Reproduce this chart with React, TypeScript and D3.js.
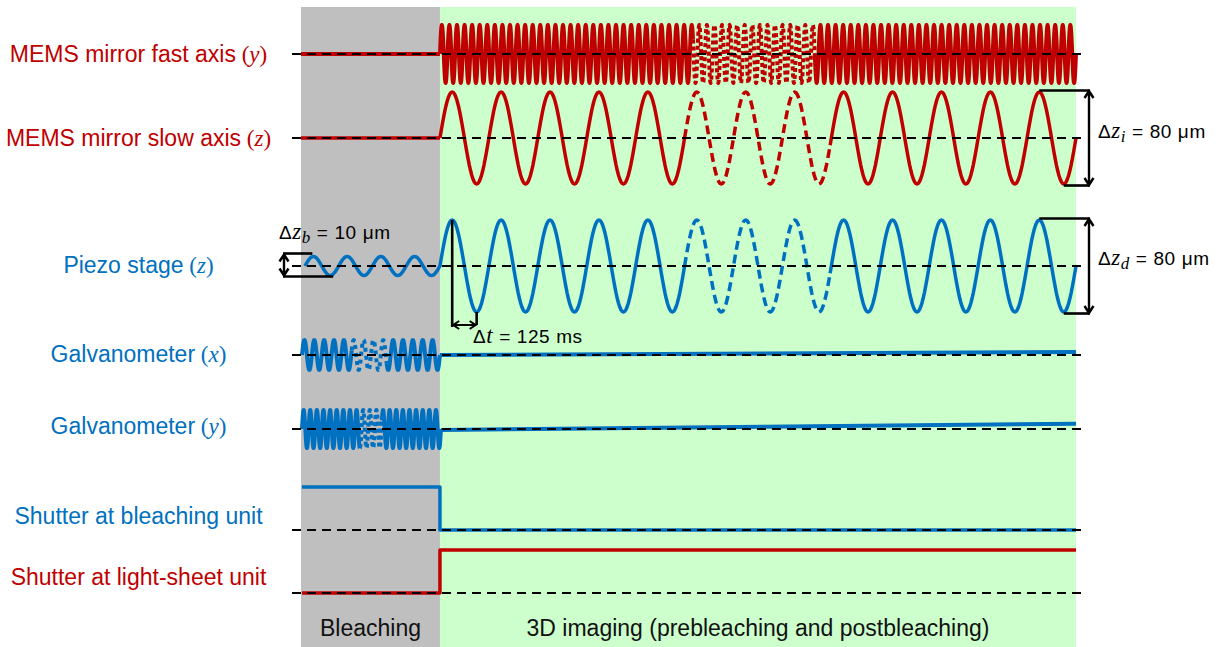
import React from "react";
import * as d3 from "d3";

// ---------------- data ----------------
const phaseNames = ["Bleaching", "3D imaging (prebleaching and postbleaching)"];
const phaseBounds = [-710, 0, 3250]; // ms
const halfPeriod = 125; // Δt (ms)
const imagingCycles = 13;
const skippedCycles = [5, 8]; // schematic (dashed) cycles of slow axis / piezo
const fastCycles = 84;
const fastSkipped = [1293, 1916]; // ms
const scanRange = 80; // µm (Δz_i, Δz_d)
const bleachRange = 10; // µm (Δz_b)
const bleachStart = -690; // ms
const bleachCycles = 4;
const galvStart = -705; // ms
const galvXCycles = 14;
const galvXSkipped = [-450, -271];
const galvYCycles = 21;
const galvYSkipped = [-409, -296];
const galvXDrift = [0, 0.2];
const galvYDrift = [-0.05, 0.28];
const shutterBleach = [1, 0];
const shutterSheet = [0, 1];
const rowLabels = [
  "MEMS mirror fast axis",
  "MEMS mirror slow axis",
  "Piezo stage",
  "Galvanometer",
  "Galvanometer",
  "Shutter at bleaching unit",
  "Shutter at light-sheet unit",
];
const rowVars = ["y", "z", "z", "x", "y", "", ""];

// ---------------- layout / style ----------------
const W = 1226;
const H = 647;
const RED = "#C00000";
const BLUE = "#0070C0";
const rowY = [54, 138, 266, 355, 429, 530, 593];
const rowColor = [RED, RED, BLUE, BLUE, BLUE, BLUE, RED];
const SANS = "'Liberation Sans', Arial, sans-serif";
const SERIF = "'Liberation Serif', 'Times New Roman', serif";

const x = d3.scaleLinear().domain([phaseBounds[0], phaseBounds[2]]).range([301, 1076]);
const scanY = d3.scaleLinear().domain([-scanRange / 2, scanRange / 2]).range([46, -46]);
const bleachY = d3.scaleLinear().domain([-bleachRange / 2, bleachRange / 2]).range([9.5, -9.5]);
const fastY = d3.scaleLinear().domain([-1, 1]).range([29, -29]);
const galvXY = d3.scaleLinear().domain([-1, 1]).range([15, -15]);
const galvYY = d3.scaleLinear().domain([-1, 1]).range([19, -19]);
const shutterY = d3.scaleLinear().domain([0, 1]).range([0, -43]);

type Pt = [number, number]; // [time ms, px offset]

function sine(t0: number, t1: number, cycles: number, amp: (v: number) => number, spc = 40): Pt[] {
  const n = Math.ceil(cycles * spc);
  return d3.range(n + 1).map((i) => {
    const t = t0 + ((t1 - t0) * i) / n;
    return [t, amp(Math.sin((2 * Math.PI * cycles * (t - t0)) / (t1 - t0)))] as Pt;
  });
}
function flat(t0: number, t1: number, v0: number, v1: number, amp: (v: number) => number): Pt[] {
  return [
    [t0, amp(v0)],
    [t1, amp(v1)],
  ];
}
function split(pts: Pt[], range: number[] | null) {
  const segs: { dashed: boolean; pts: Pt[] }[] = [];
  const inR = (t: number) => !!range && t > range[0] && t < range[1];
  let cur: { dashed: boolean; pts: Pt[] } | null = null;
  for (const p of pts) {
    const d = inR(p[0]);
    if (!cur || cur.dashed !== d) {
      const prev = cur ? cur.pts[cur.pts.length - 1] : null;
      cur = { dashed: d, pts: prev ? [prev] : [] };
      segs.push(cur);
    }
    cur.pts.push(p);
  }
  return segs;
}

const period = halfPeriod * 2;
const imgEnd = imagingCycles * period;
const slowSkip = [skippedCycles[0] * period, skippedCycles[1] * period];

type Row = { segs: { dashed: boolean; pts: Pt[] }[]; width: number; dash: string };
const rows: Row[] = [
  {
    segs: [
      ...split(flat(phaseBounds[0], 0, 0, 0, fastY), null),
      ...split(sine(0, imgEnd, fastCycles, fastY, 24), fastSkipped),
    ],
    width: 4,
    dash: "4,3",
  },
  {
    segs: [
      ...split(flat(phaseBounds[0], 0, 0, 0, scanY), null),
      ...split(sine(0, imgEnd, imagingCycles, (v) => scanY((v * scanRange) / 2)), slowSkip),
    ],
    width: 3.5,
    dash: "9,5",
  },
  {
    segs: split(
      [
        ...sine(bleachStart, 0, bleachCycles, (v) => bleachY((v * bleachRange) / 2)),
        ...sine(0, imgEnd, imagingCycles, (v) => scanY((v * scanRange) / 2)).slice(1),
      ],
      slowSkip
    ),
    width: 3.5,
    dash: "9,5",
  },
  {
    segs: [
      ...split(sine(galvStart, 0, galvXCycles, galvXY), galvXSkipped),
      ...split(flat(0, imgEnd, galvXDrift[0], galvXDrift[1], galvXY), null),
    ],
    width: 4,
    dash: "4,4",
  },
  {
    segs: [
      ...split(sine(galvStart, 5, galvYCycles, galvYY), galvYSkipped),
      ...split(flat(5, imgEnd, galvYDrift[0], galvYDrift[1], galvYY), null),
    ],
    width: 4,
    dash: "4,3",
  },
  {
    segs: split(
      [
        [galvStart, shutterY(shutterBleach[0])],
        [0, shutterY(shutterBleach[0])],
        [0, shutterY(shutterBleach[1])],
        [imgEnd, shutterY(shutterBleach[1])],
      ],
      null
    ),
    width: 3.5,
    dash: "",
  },
  {
    segs: split(
      [
        [galvStart, shutterY(shutterSheet[0])],
        [0, shutterY(shutterSheet[0])],
        [0, shutterY(shutterSheet[1])],
        [imgEnd, shutterY(shutterSheet[1])],
      ],
      null
    ),
    width: 3.5,
    dash: "",
  },
];

function VArrow({ x0, y1, y2 }: { x0: number; y1: number; y2: number }) {
  const h = 7,
    w = 4.5;
  const d = `M${x0},${y1}V${y2}M${x0 - w},${y1 + h}L${x0},${y1}L${x0 + w},${y1 + h}M${x0 - w},${y2 - h}L${x0},${y2}L${x0 + w},${y2 - h}`;
  return <path d={d} stroke="#000" strokeWidth={2.4} fill="none" />;
}
function HArrow({ x1, x2, y0 }: { x1: number; x2: number; y0: number }) {
  const h = 6,
    w = 4;
  const d = `M${x1},${y0}H${x2}M${x1 + h},${y0 - w}L${x1},${y0}L${x1 + h},${y0 + w}M${x2 - h},${y0 - w}L${x2},${y0}L${x2 - h},${y0 + w}`;
  return <path d={d} stroke="#000" strokeWidth={2} fill="none" />;
}
const ANN = 19;
function DeltaLabel({ x0, y0, v, sub, rest }: { x0: number; y0: number; v: string; sub?: string; rest: string }) {
  return (
    <text x={x0} y={y0} fontSize={ANN} fontFamily={SANS} fill="#000" letterSpacing={0.6}>
      Δ
      <tspan fontFamily={SERIF} fontStyle="italic" fontSize={ANN + 4}>
        {v}
      </tspan>
      {sub ? (
        <tspan fontFamily={SERIF} fontStyle="italic" fontSize={ANN - 2} dy={4}>
          {sub}
        </tspan>
      ) : null}
      <tspan dy={sub ? -4 : 0}>{rest}</tspan>
    </text>
  );
}

export default function App() {
  const lineGen = (base: number) =>
    d3
      .line<Pt>()
      .x((d) => x(d[0]))
      .y((d) => base + d[1]);

  const lastPeak = imgEnd - 0.75 * period;
  const lastTrough = imgEnd - 0.25 * period;
  const arrowX = 1089;
  const ampPx = Math.abs(scanY(scanRange / 2));
  const bAmp = Math.abs(bleachY(bleachRange / 2));

  return (
    <svg width={W} height={H} style={{ position: "absolute", left: 0, top: 0, background: "#fff" }}>
      {/* phase regions */}
      <rect x={x(phaseBounds[0])} y={7} width={x(phaseBounds[1]) - x(phaseBounds[0])} height={H - 7} fill="#BFBFBF" />
      <rect x={x(phaseBounds[1])} y={7} width={x(phaseBounds[2]) - x(phaseBounds[1])} height={H - 7} fill="#CCFFCC" />

      {/* signals */}
      {rows.map((r, i) => (
        <g key={i}>
          {r.segs.map((s, j) => (
            <path
              key={j}
              d={lineGen(rowY[i])(s.pts) || ""}
              stroke={rowColor[i]}
              strokeWidth={r.width}
              fill="none"
              strokeDasharray={s.dashed ? r.dash : undefined}
              strokeLinejoin="round"
            />
          ))}
        </g>
      ))}

      {/* baselines */}
      {rowY.map((y, i) => (
        <line key={i} x1={292} x2={1087} y1={y} y2={y} stroke="#000" strokeWidth={2.2} strokeDasharray="9,6" />
      ))}

      {/* row labels */}
      {rowLabels.map((l, i) => (
        <text
          key={i}
          x={138.5}
          y={rowY[i] + [8, 8, 7, 7, 5, -6, -8][i]}
          textAnchor="middle"
          fontSize={23}
          fontFamily={SANS}
          fill={rowColor[i]}
        >
          {l}
          {rowVars[i] ? (
            <tspan fontFamily={SERIF}>
              {" ("}
              <tspan fontStyle="italic">{rowVars[i]}</tspan>
              {")"}
            </tspan>
          ) : null}
        </text>
      ))}

      {/* Δz_i annotation */}
      <line x1={x(lastPeak)} x2={arrowX + 1} y1={rowY[1] - ampPx - 1.5} y2={rowY[1] - ampPx - 1.5} stroke="#000" strokeWidth={2.6} />
      <line x1={x(lastTrough)} x2={arrowX + 1} y1={rowY[1] + ampPx + 1.5} y2={rowY[1] + ampPx + 1.5} stroke="#000" strokeWidth={2.6} />
      <VArrow x0={arrowX} y1={rowY[1] - ampPx - 1} y2={rowY[1] + ampPx + 1} />
      <DeltaLabel x0={1098} y0={rowY[1]} v="z" sub="i" rest=" = 80 μm" />

      {/* Δz_d annotation */}
      <line x1={x(lastPeak)} x2={arrowX + 1} y1={rowY[2] - ampPx - 1.5} y2={rowY[2] - ampPx - 1.5} stroke="#000" strokeWidth={2.6} />
      <line x1={x(lastTrough)} x2={arrowX + 1} y1={rowY[2] + ampPx + 1.5} y2={rowY[2] + ampPx + 1.5} stroke="#000" strokeWidth={2.6} />
      <VArrow x0={arrowX} y1={rowY[2] - ampPx - 1} y2={rowY[2] + ampPx + 1} />
      <DeltaLabel x0={1098} y0={rowY[2] - 1} v="z" sub="d" rest=" = 80 μm" />

      {/* Δz_b annotation */}
      <line x1={283} x2={x(bleachStart + (0.25 * -bleachStart) / bleachCycles) - 1} y1={rowY[2] - bAmp - 3} y2={rowY[2] - bAmp - 3} stroke="#000" strokeWidth={2.6} />
      <line x1={283} x2={x(bleachStart + (0.75 * -bleachStart) / bleachCycles) + 3} y1={rowY[2] + bAmp + 1} y2={rowY[2] + bAmp + 1} stroke="#000" strokeWidth={2.6} />
      <VArrow x0={284} y1={rowY[2] - bAmp - 2} y2={rowY[2] + bAmp} />
      <DeltaLabel x0={279} y0={rowY[2] - 27} v="z" sub="b" rest=" = 10 μm" />

      {/* Δt annotation */}
      <line x1={x(halfPeriod / 2)} x2={x(halfPeriod / 2)} y1={rowY[2] - ampPx} y2={rowY[2] + 61} stroke="#000" strokeWidth={2.6} />
      <line x1={x(halfPeriod * 1.5)} x2={x(halfPeriod * 1.5)} y1={rowY[2] + ampPx} y2={rowY[2] + 59} stroke="#000" strokeWidth={2.6} />
      <HArrow x1={x(halfPeriod / 2) + 1} x2={x(halfPeriod * 1.5) - 1} y0={rowY[2] + 59} />
      <text x={473} y={rowY[2] + 77} fontSize={ANN} fontFamily={SANS} fill="#000" letterSpacing={0.6}>
        Δ
        <tspan fontFamily={SERIF} fontStyle="italic" fontSize={ANN + 4}>
          t
        </tspan>
        {" = 125 ms"}
      </text>

      {/* phase names */}
      {phaseNames.map((p, i) => (
        <text
          key={i}
          x={(x(phaseBounds[i]) + x(phaseBounds[i + 1])) / 2}
          y={636}
          textAnchor="middle"
          fontSize={23}
          fontFamily={SANS}
          fill="#111"
        >
          {p}
        </text>
      ))}
    </svg>
  );
}
